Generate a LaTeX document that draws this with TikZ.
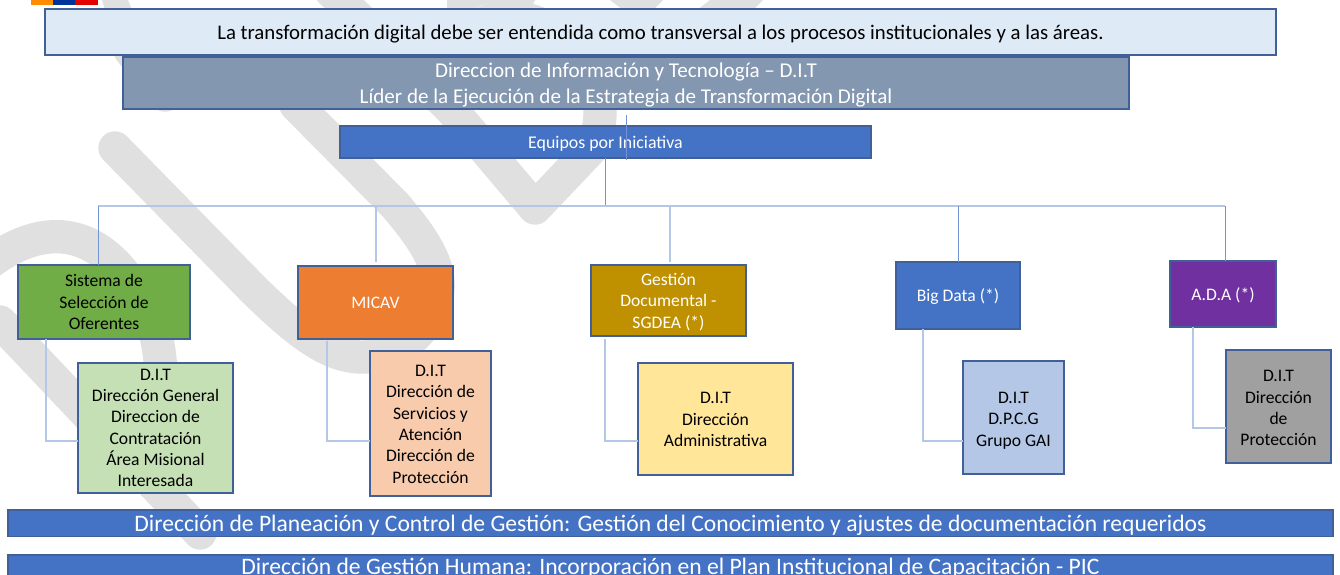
\documentclass[tikz,border=0pt]{standalone}
\usepackage{fontspec}
\setmainfont{Carlito}
\definecolor{wm}{HTML}{E0E0E0}
\definecolor{edge}{HTML}{41609A}
\definecolor{connd}{HTML}{7395D6}
\definecolor{connl}{HTML}{B4C7E7}
\definecolor{blueb}{HTML}{4472C4}
\definecolor{ctop}{HTML}{DEEAF6}
\definecolor{cdit}{HTML}{8497B0}
\definecolor{cgreen}{HTML}{70AD47}
\definecolor{corange}{HTML}{ED7D31}
\definecolor{cgold}{HTML}{BF9000}
\definecolor{cpurple}{HTML}{7030A0}
\definecolor{lgreen}{HTML}{C5E0B4}
\definecolor{lpeach}{HTML}{F8CBAD}
\definecolor{lyellow}{HTML}{FFE699}
\definecolor{lblue}{HTML}{B4C7E7}
\definecolor{lgray}{HTML}{A0A0A0}
\tikzset{x=0.75pt,y=-0.75pt,
 band/.style={draw=wm,line width=25pt,line cap=round,line join=round},
 boxn/.style={draw=edge,line width=1.2pt,inner sep=0pt,outer sep=0pt,font=\fontsize{13.2}{16}\selectfont},
 linkd/.style={draw=connd,line width=0.6pt},
 linkl/.style={draw=connl,line width=1.1pt}}
\newcommand{\bx}[8]{% name,x1,y1,x2,y2,style,down shift,text
 \node[boxn,#6,minimum width=#4*0.75pt-#2*0.75pt,minimum height=#5*0.75pt-#3*0.75pt,anchor=north west] (#1) at (#2,#3) {\raisebox{-#7pt}[\height][\depth]{\begin{tabular}{@{}c@{}}#8\end{tabular}}};}
\begin{document}
\begin{tikzpicture}
\useasboundingbox (0,0) rectangle (1340,575);
\fill[white] (0,0) rectangle (1340,575);
\begin{scope}
\clip (0,0) rectangle (1340,575);
\draw[band] (115,148) -- (254,290) .. controls (300,335) and (330,357) .. (362,357) .. controls (400,357) and (432,330) .. (438,290) .. controls (440,265) and (425,240) .. (395,205) -- (296,105);
\draw[band] (330,-10) -- (452,110) -- (535,208) -- (590,150) .. controls (610,120) and (600,60) .. (560,35) .. controls (530,15) and (500,10) .. (470,30);
\draw[band] (0,322) -- (200,533);
\draw[band] (-20,270) .. controls (40,220) and (90,230) .. (125,275) .. controls (160,315) and (165,360) .. (160,440);
\draw[band] (130,50) -- (165,95);
\fill[wm] (102,0) -- (128,0) -- (132,10) -- (105,10) -- cycle;
\fill[wm] (447,0) -- (535,0) -- (531,8) .. controls (515,0) and (490,0) .. (475,8) -- (477,10) -- (447,10) -- cycle;
\fill[wm] (610,0) -- (663,0) -- (653,10) -- (623,10) -- cycle;
\fill[wm] (710,0) -- (763,0) -- (753,10) -- (697,10) -- cycle;
\end{scope}
\fill[orange!90!yellow] (31,0) rectangle (53,4.5);
\fill[blue!50!black!80!cyan] (53,0) rectangle (75,4.5);
\fill[red!90!black] (75,0) rectangle (98,4.5);
\coordinate (hl) at (98,206);
\coordinate (hr) at (1225,206);
\coordinate (hm) at (605,206);
\bx{ini}{340}{126}{871}{158}{fill=blueb,text=white,font=\fontsize{13.4}{16}\selectfont}{1.9}{Equipos por Iniciativa}
\bx{top}{45}{9}{1276}{55}{fill=ctop,text=black,font=\fontsize{15.6}{18}\selectfont}{1.9}{La transformación digital debe ser entendida como transversal a los procesos institucionales y a las áreas.}
\bx{dit}{123}{57}{1129}{109}{fill=cdit,text=white,font=\fontsize{15.8}{19}\selectfont}{1.9}{Direccion de Información y Tecnología – D.I.T\\Líder de la Ejecución de la Estrategia de Transformación Digital}
\draw[linkd] (626,115) -- (626,160);
\draw[linkd] (ini.south -| hm) -- (hm);
\draw[linkl] (hl) -- (hr);
\bx{a}{18}{265}{190}{339}{fill=cgreen,text=black}{1.3}{Sistema de\\Selección de\\Oferentes}
\bx{b}{298}{266}{453}{339}{fill=corange,text=white}{1.5}{MICAV}
\bx{c}{591}{265}{746}{336}{fill=cgold,text=white}{1.6}{Gestión\\Documental -\\SGDEA (*)}
\bx{d}{896}{262}{1020}{329}{fill=blueb,text=white}{1.5}{Big Data (*)}
\bx{e}{1170}{261}{1276}{327}{fill=cpurple,text=white}{1.5}{A.D.A (*)}
\bx{a2}{78}{363}{233}{493}{fill=lgreen,text=black}{0.9}{D.I.T\\Dirección General\\Direccion de\\Contratación\\Área Misional\\Interesada}
\bx{b2}{370}{351}{491}{496}{fill=lpeach,text=black}{1.5}{D.I.T\\Dirección de\\Servicios y\\Atención\\Dirección de\\Protección}
\bx{c2}{638}{363}{793}{475}{fill=lyellow,text=black}{1.5}{D.I.T\\Dirección\\Administrativa}
\bx{d2}{963}{361}{1064}{474}{fill=lblue,text=black}{2.2}{D.I.T\\D.P.C.G\\Grupo GAI}
\bx{e2}{1226}{350}{1331}{463}{fill=lgray,text=black}{2.2}{D.I.T\\Dirección\\de\\Protección}
\bx{pl}{8}{510}{1333}{535}{fill=blueb,text=white,font=\fontsize{17.7}{20}\selectfont}{2.2}{Dirección de Planeación y Control de Gestión: Gestión del Conocimiento y ajustes de documentación requeridos}
\bx{hu}{8}{555}{1333}{585}{fill=blueb,text=white,font=\fontsize{17.7}{20}\selectfont}{-0.8}{Dirección de Gestión Humana: Incorporación en el Plan Institucional de Capacitación - PIC}
\draw[linkd] (hl) -- (hl |- a.north);
\draw[linkl] (376,206) -- (376,262);
\draw[linkl] (670,206) -- (670,262);
\draw[linkd] (958,206) -- (958,262);
\draw[linkd] (hr) -- (hr |- e.north);
\draw[linkl] (46,339) |- (a2.west |- 0,441);
\draw[linkl] (327,341) |- (b2.west |- 0,441);
\draw[linkl] (605,339) |- (c2.west |- 0,441);
\draw[linkl] (923,329) |- (d2.west |- 0,441);
\draw[linkl] (1193,327) |- (e2.west |- 0,428);
\end{tikzpicture}
\end{document}
